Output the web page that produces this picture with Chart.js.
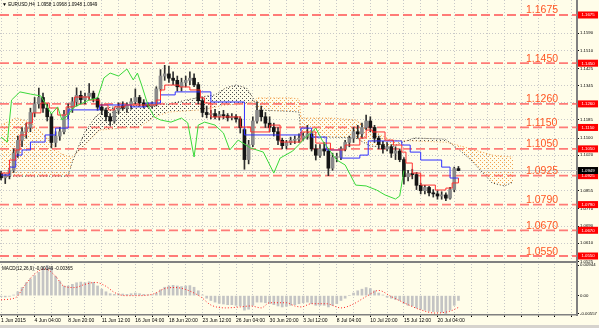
<!DOCTYPE html>
<html>
<head>
<meta charset="utf-8">
<title>EURUSD H4</title>
<script src="https://cdn.jsdelivr.net/npm/chart.js@4.4.1/dist/chart.umd.min.js"></script>
<style>
  html, body { margin: 0; padding: 0; background: #ffffff; }
  #wrap { position: relative; width: 599px; height: 328px; background: #fffde9; overflow: hidden;
          font-family: "Liberation Sans", Arial, sans-serif; }
  canvas { position: absolute; left: 0; }
  #macd { top: 258px; }
  #main { top: 0; }
  .hdr { position: absolute; font-size: 4.6px; line-height: 5px; color: #000; white-space: pre; z-index: 2; }
  #tabs { position: absolute; left: 0; top: 325px; width: 599px; height: 3px; background: #d6d3ce; }
</style>
</head>
<body>
<div id="wrap">
  <canvas id="macd" width="599" height="68"></canvas>
  <canvas id="main" width="599" height="264"></canvas>
  <div class="hdr" style="left:2px;top:2px"><span style="font-size:5px">&#9660;</span> EURUSD,H4  1.0958 1.0968 1.0948 1.0949</div>
  <div class="hdr" style="left:2px;top:266px">MACD(12,26,9) -0.00149 -0.00365</div>
  <div id="tabs"></div>
</div>
<script>
const FONT = '"Liberation Sans", Arial, sans-serif';

// x values are H4 bar numbers, bar 0 = 1 Jun 2015 12:00
const xLabels = ['1 Jun 2015', '4 Jun 04:00', '8 Jun 20:00', '11 Jun 12:00', '16 Jun 04:00', '18 Jun 20:00',
  '23 Jun 12:00', '26 Jun 04:00', '30 Jun 20:00', '3 Jul 12:00', '8 Jul 04:00', '10 Jul 20:00',
  '15 Jul 12:00', '20 Jul 04:00'];
const yTicks = [1.0525, 1.0610, 1.0690, 1.0770, 1.0855, 1.0940, 1.1020, 1.1100, 1.1185, 1.1265,
  1.1345, 1.1425, 1.1510, 1.1590];
const macdTicks = [-0.00557, 0, 0.00944];
const levels = [1.1675, 1.1450, 1.1260, 1.1150, 1.1050, 1.0925, 1.0790, 1.0670, 1.0550];
const bid = 1.0949;

// candles, one every 2 bars
const opens = [1.0935, 1.0915, 1.0925, 1.0950, 1.1030, 1.1090, 1.1130, 1.1150, 1.1220, 1.1260,
  1.1290, 1.1240, 1.1200, 1.1080, 1.1110, 1.1130, 1.1210, 1.1240, 1.1270, 1.1300,
  1.1280, 1.1295, 1.1310, 1.1285, 1.1245, 1.1230, 1.1200, 1.1180, 1.1230, 1.1250,
  1.1240, 1.1255, 1.1270, 1.1290, 1.1265, 1.1255, 1.1250, 1.1260, 1.1330, 1.1390,
  1.1400, 1.1380, 1.1370, 1.1340, 1.1360, 1.1370, 1.1380, 1.1350, 1.1275, 1.1220,
  1.1210, 1.1215, 1.1200, 1.1210, 1.1205, 1.1195, 1.1200, 1.1190, 1.1140, 1.1000,
  1.1070, 1.1180, 1.1230, 1.1200, 1.1170, 1.1150, 1.1130, 1.1090, 1.1065, 1.1080,
  1.1090, 1.1095, 1.1100, 1.1110, 1.1120, 1.1050, 1.1020, 1.1050, 1.1040, 1.0960,
  1.1010, 1.1010, 1.1050, 1.1080, 1.1100, 1.1130, 1.1120, 1.1150, 1.1180, 1.1150,
  1.1100, 1.1070, 1.1050, 1.1060, 1.1030, 1.1040, 1.1000, 1.0920, 1.0935, 1.0930,
  1.0880, 1.0855, 1.0870, 1.0845, 1.0840, 1.0830, 1.0835, 1.0820, 1.0860, 1.0958];
const highs = [1.0945, 1.0930, 1.0960, 1.1050, 1.1110, 1.1150, 1.1170, 1.1240, 1.1290, 1.1334,
  1.1310, 1.1260, 1.1215, 1.1130, 1.1150, 1.1230, 1.1260, 1.1290, 1.1335, 1.1320,
  1.1310, 1.1355, 1.1320, 1.1290, 1.1260, 1.1240, 1.1215, 1.1240, 1.1265, 1.1270,
  1.1265, 1.1285, 1.1330, 1.1300, 1.1280, 1.1265, 1.1270, 1.1340, 1.1420, 1.1440,
  1.1436, 1.1410, 1.1390, 1.1380, 1.1390, 1.1410, 1.1400, 1.1360, 1.1290, 1.1250,
  1.1230, 1.1235, 1.1225, 1.1230, 1.1215, 1.1215, 1.1210, 1.1200, 1.1150, 1.1090,
  1.1200, 1.1270, 1.1250, 1.1220, 1.1200, 1.1170, 1.1150, 1.1100, 1.1090, 1.1105,
  1.1110, 1.1120, 1.1125, 1.1160, 1.1130, 1.1070, 1.1070, 1.1080, 1.1050, 1.1030,
  1.1030, 1.1060, 1.1090, 1.1110, 1.1150, 1.1160, 1.1170, 1.1208, 1.1200, 1.1160,
  1.1110, 1.1085, 1.1080, 1.1070, 1.1060, 1.1050, 1.1010, 1.0950, 1.0955, 1.0940,
  1.0890, 1.0880, 1.0875, 1.0860, 1.0855, 1.0850, 1.0845, 1.0870, 1.0965, 1.0968];
const lows = [1.0905, 1.0888, 1.0910, 1.0940, 1.1010, 1.1060, 1.1100, 1.1130, 1.1200, 1.1240,
  1.1220, 1.1180, 1.1054, 1.1060, 1.1090, 1.1120, 1.1190, 1.1220, 1.1250, 1.1260,
  1.1260, 1.1280, 1.1270, 1.1230, 1.1210, 1.1180, 1.1160, 1.1170, 1.1215, 1.1230,
  1.1220, 1.1235, 1.1260, 1.1250, 1.1240, 1.1245, 1.1240, 1.1250, 1.1320, 1.1370,
  1.1360, 1.1350, 1.1320, 1.1320, 1.1340, 1.1350, 1.1340, 1.1260, 1.1200, 1.1195,
  1.1190, 1.1190, 1.1185, 1.1190, 1.1180, 1.1185, 1.1175, 1.1124, 1.0955, 1.0980,
  1.1060, 1.1170, 1.1180, 1.1150, 1.1130, 1.1110, 1.1070, 1.1050, 1.1050, 1.1070,
  1.1075, 1.1080, 1.1090, 1.1095, 1.1040, 1.0998, 1.1010, 1.1020, 1.0925, 1.0950,
  1.0990, 1.1000, 1.1040, 1.1060, 1.1080, 1.1100, 1.1100, 1.1140, 1.1130, 1.1080,
  1.1050, 1.1030, 1.1040, 1.1010, 1.1000, 1.0990, 1.0885, 1.0900, 1.0910, 1.0860,
  1.0840, 1.0840, 1.0830, 1.0825, 1.0815, 1.0815, 1.0808, 1.0815, 1.0850, 1.0948];
const closes = [1.0915, 1.0925, 1.0950, 1.1030, 1.1090, 1.1130, 1.1150, 1.1220, 1.1260, 1.1290,
  1.1240, 1.1200, 1.1080, 1.1110, 1.1130, 1.1210, 1.1240, 1.1270, 1.1300, 1.1280,
  1.1295, 1.1310, 1.1285, 1.1245, 1.1230, 1.1200, 1.1180, 1.1230, 1.1250, 1.1240,
  1.1255, 1.1270, 1.1290, 1.1265, 1.1255, 1.1250, 1.1260, 1.1330, 1.1390, 1.1400,
  1.1380, 1.1370, 1.1340, 1.1360, 1.1370, 1.1380, 1.1350, 1.1275, 1.1220, 1.1210,
  1.1215, 1.1200, 1.1210, 1.1205, 1.1195, 1.1200, 1.1190, 1.1150, 1.1000, 1.1070,
  1.1180, 1.1230, 1.1200, 1.1170, 1.1150, 1.1130, 1.1090, 1.1065, 1.1080, 1.1090,
  1.1095, 1.1100, 1.1110, 1.1120, 1.1050, 1.1020, 1.1050, 1.1040, 1.0960, 1.1010,
  1.1010, 1.1050, 1.1080, 1.1100, 1.1130, 1.1120, 1.1150, 1.1180, 1.1150, 1.1100,
  1.1070, 1.1050, 1.1060, 1.1030, 1.1040, 1.1000, 1.0920, 1.0935, 1.0930, 1.0880,
  1.0855, 1.0870, 1.0845, 1.0840, 1.0830, 1.0835, 1.0820, 1.0860, 1.0958, 1.0949];

// ichimoku lines, read as (bar, price) break points
const tenkanBars = [0, 4, 7, 9, 12, 15, 19, 23, 27, 31, 35, 42, 47, 51, 54, 59, 74, 76, 78, 85,
  90, 95, 97, 100, 114, 119, 128, 133, 143, 150, 157, 164, 171, 174, 177, 183, 187, 191, 193, 196,
  200, 207, 212, 215, 218];
const tenkanVals = [1.0937, 1.0998, 1.1045, 1.1115, 1.1171, 1.1218, 1.1264, 1.1241, 1.1208, 1.1246,
  1.1292, 1.1278, 1.1255, 1.1232, 1.1246, 1.1255, 1.1278, 1.1325, 1.1348, 1.1339,
  1.1325, 1.1288, 1.1264, 1.1199, 1.1152, 1.1129, 1.1161, 1.1082, 1.1129, 1.1077,
  1.1045, 1.1068, 1.1101, 1.1138, 1.1129, 1.1091, 1.1068, 1.1035, 1.0984, 1.0937,
  1.0881, 1.0858, 1.0867, 1.0891, 1.0914];
const kijunBars = [0, 4, 7, 10, 14, 21, 26, 32, 47, 62, 69, 76, 83, 100, 116, 143, 148, 155, 162, 171,
  175, 191, 195, 200, 210, 214, 218];
const kijunVals = [1.0928, 1.0965, 1.1021, 1.1045, 1.1082, 1.1115, 1.1147, 1.1232, 1.1255, 1.1246,
  1.1264, 1.1302, 1.1316, 1.1269, 1.1115, 1.1147, 1.1105, 1.1045, 1.1007, 1.1021,
  1.1087, 1.1068, 1.1035, 1.0998, 1.0965, 1.0914, 1.0905];
const chikouBars = [0, 3, 5, 9, 14, 19, 22, 24, 27, 29, 31, 35, 42, 46, 49, 52, 56, 60, 63, 65,
  67, 70, 73, 76, 81, 86, 89, 92, 94, 97, 102, 106, 109, 113, 119, 125, 130, 133, 139, 145,
  150, 153, 160, 164, 169, 174, 179, 183, 188, 190, 192];
const chikouVals = [1.1105, 1.1082, 1.1278, 1.1316, 1.1306, 1.1297, 1.1246, 1.1213, 1.1246, 1.1185,
  1.1199, 1.1246, 1.1278, 1.1288, 1.1381, 1.1404, 1.1390, 1.1423, 1.1372, 1.1404,
  1.1348, 1.1255, 1.1199, 1.1185, 1.1175, 1.1194, 1.1171, 1.1012, 1.1161, 1.1175,
  1.1161, 1.1124, 1.1045, 1.1091, 1.1054, 1.1035, 1.0937, 1.1007, 1.1040, 1.1101,
  1.1147, 1.1091, 1.0998, 1.0975, 1.0881, 1.0877, 1.0858, 1.0835, 1.0816, 1.0830, 1.0949];
const cloudBars = [0, 7, 14, 21, 28, 32, 34, 36, 40, 45, 47, 50, 57, 66, 73, 80, 95, 102, 107, 112,
  117, 120, 122, 138, 142, 143, 157, 169, 176, 186, 193, 197, 210, 212, 216, 219, 224, 234, 240, 244];
const spanA = [1.1161, 1.1194, 1.1175, 1.1110, 1.1030, 1.1015, 1.1012, 1.1030, 1.1070, 1.1120,
  1.1138, 1.1140, 1.1147, 1.1152, 1.1199, 1.1222, 1.1232, 1.1245, 1.1255, 1.1258,
  1.1262, 1.1270, 1.1288, 1.1288, 1.1283, 1.1194, 1.1194, 1.1185, 1.1138, 1.1091,
  1.1088, 1.1087, 1.1082, 1.1082, 1.1072, 1.1063, 1.1050, 1.1021, 1.1015, 1.1012];
const spanB = [1.0923, 1.0923, 1.0923, 1.0923, 1.0923, 1.0923, 1.0990, 1.1040, 1.1130, 1.1200,
  1.1215, 1.1241, 1.1250, 1.1252, 1.1255, 1.1260, 1.1292, 1.1302, 1.1334, 1.1348,
  1.1334, 1.1290, 1.1232, 1.1225, 1.1222, 1.1105, 1.1105, 1.1101, 1.1063, 1.1059,
  1.1087, 1.1101, 1.1096, 1.1094, 1.1063, 1.1040, 1.0998, 1.0891, 1.0877, 1.0895];

// MACD main (histogram, same bars as the candles) and signal
const macdHist = [-0.0003, -0.0004, -0.0002, 0.0002, 0.0012, 0.0025, 0.0040, 0.0052, 0.0062, 0.0072,
  0.0088, 0.0094, 0.0086, 0.0060, 0.0045, 0.0030, 0.0030, 0.0035, 0.0040, 0.0042,
  0.0040, 0.0043, 0.0041, 0.0030, 0.0020, 0.0012, 0.0006, 0.0004, 0.0006, 0.0005,
  0.0004, 0.0006, 0.0008, 0.0006, 0.0004, 0.0003, 0.0002, 0.0008, 0.0018, 0.0026,
  0.0030, 0.0032, 0.0030, 0.0028, 0.0030, 0.0031, 0.0026, 0.0015, 0.0002, -0.0008,
  -0.0015, -0.0020, -0.0024, -0.0026, -0.0028, -0.0028, -0.0030, -0.0032, -0.0045, -0.0042,
  -0.0030, -0.0020, -0.0020, -0.0022, -0.0025, -0.0028, -0.0032, -0.0035, -0.0033, -0.0030,
  -0.0028, -0.0025, -0.0022, -0.0020, -0.0025, -0.0030, -0.0030, -0.0030, -0.0035, -0.0030,
  -0.0025, -0.0015, -0.0008, 0.0000, 0.0008, 0.0015, 0.0020, 0.0025, 0.0022, 0.0015,
  0.0008, 0.0002, -0.0005, -0.0008, -0.0012, -0.0015, -0.0025, -0.0030, -0.0032, -0.0038,
  -0.0042, -0.0045, -0.0048, -0.0050, -0.0050, -0.0052, -0.00557, -0.0045, -0.0030, -0.00149];
const signalBars = [0, 7, 11, 16, 21, 26, 30, 35, 40, 45, 50, 54, 59, 66, 73, 78, 83, 88, 95, 100,
  107, 114, 119, 124, 128, 136, 140, 143, 148, 155, 162, 167, 174, 180, 186, 193, 200, 207, 214, 218];
const signalVals = [-0.0013, -0.0006, 0.0029, 0.0067, 0.0083, 0.0060, 0.0029, 0.0025, 0.0035, 0.0041,
  0.0029, 0.0010, 0.0000, 0.0000, 0.0006, 0.0022, 0.0025, 0.0019, -0.0003, -0.0029,
  -0.0038, -0.0035, -0.0032, -0.0038, -0.0022, -0.0022, -0.0032, -0.0035, -0.0025, -0.0025,
  -0.0038, -0.0029, -0.0003, 0.0016, -0.0003, -0.0025, -0.0044, -0.0054, -0.0048, -0.00365];

const candleStep = 2;
const X_MIN = -0.5, X_MAX = 274.5;
const gridBars = [];
for (let b = 0; b <= 272; b += 8) gridBars.push(b);

const pts = (xs, ys) => xs.map((x, i) => ({x: x, y: ys[i]}));

function dots(ctx, color) {
  const c = document.createElement('canvas');
  c.width = 4; c.height = 4;
  const g = c.getContext('2d');
  g.fillStyle = color;
  g.fillRect(0, 0, 1, 1);
  g.fillRect(2, 2, 1, 1);
  return ctx.createPattern(c, 'repeat');
}

const mainCtx = document.getElementById('main').getContext('2d');

const lineDs = (data, color, extra) => Object.assign({
  type: 'line', data: data, borderColor: color, borderWidth: 1,
  pointRadius: 0, fill: false, tension: 0, order: 0
}, extra || {});

const levelSets = levels.map(v => lineDs([{x: X_MIN, y: v}, {x: X_MAX, y: v}],
  'rgba(255,90,90,0.8)', {borderWidth: 1.8, borderDash: [9, 4], order: 3}));

function box(ctx, x, y, bg, text) {
  ctx.fillStyle = bg;
  ctx.fillRect(x, y - 3.5, 20, 7);
  ctx.fillStyle = '#ffffff';
  ctx.font = '4.3px ' + FONT;
  ctx.textAlign = 'center';
  ctx.textBaseline = 'middle';
  ctx.fillText(text, x + 10, y + 0.3);
}

const levelMarks = {
  id: 'levelMarks',
  afterDraw(chart) {
    const {ctx, chartArea, scales} = chart;
    ctx.save();
    levels.forEach(v => {
      const py = scales.y.getPixelForValue(v);
      ctx.fillStyle = '#ff5522';
      ctx.font = '10.5px ' + FONT;
      ctx.textAlign = 'left';
      ctx.textBaseline = 'alphabetic';
      ctx.fillText(v.toFixed(4), chartArea.right - 51, py - 1.5);
      box(ctx, chartArea.right + 1, py, '#ff0000', v.toFixed(4));
    });
    box(ctx, chartArea.right + 1, scales.y.getPixelForValue(bid), '#000000', bid.toFixed(4));
    ctx.restore();
  }
};

const xGrid = s => { s.ticks = gridBars.map(v => ({value: v})); };

new Chart(mainCtx, {
  type: 'line',
  data: {
    datasets: [
      lineDs(pts(chikouBars, chikouVals), '#3ad83a'),
      lineDs(pts(tenkanBars, tenkanVals), '#ff3030', {stepped: true}),
      lineDs(pts(kijunBars, kijunVals), '#3030ff', {stepped: true}),
      {
        type: 'bar', data: opens.map((o, i) => ({x: i * candleStep, y: [o, closes[i]]})),
        backgroundColor: opens.map((o, i) => closes[i] >= o ? '#8a8a8a' : '#151515'),
        barThickness: 3, grouped: false, minBarLength: 1, borderWidth: 0, order: 1
      },
      {
        type: 'bar', data: highs.map((h, i) => ({x: i * candleStep, y: [lows[i], h]})),
        backgroundColor: '#303030', barThickness: 1, grouped: false, borderWidth: 0, order: 2
      },
      lineDs([{x: X_MIN, y: bid}, {x: X_MAX, y: bid}], '#c8c8c8', {order: 3}),
      ...levelSets,
      lineDs(pts(cloudBars, spanA), '#f0a050', {
        borderDash: [1, 2], order: 4,
        fill: {target: '+1', above: dots(mainCtx, '#f0a050'), below: dots(mainCtx, '#505050')}
      }),
      lineDs(pts(cloudBars, spanB), '#303030', {borderDash: [1, 2], order: 4})
    ]
  },
  options: {
    responsive: false,
    animation: false,
    events: [],
    layout: {padding: 0, autoPadding: false},
    plugins: {legend: {display: false}, tooltip: {enabled: false}},
    scales: {
      x: {
        type: 'linear', min: X_MIN, max: X_MAX, offset: false,
        afterBuildTicks: xGrid,
        ticks: {display: false},
        grid: {color: '#c8c8c8', drawTicks: false, offset: false},
        border: {display: true, color: '#808080', width: 2, dash: [1, 2]},
        afterFit: s => { s.height = 2; s.paddingLeft = 0; s.paddingRight = 0; }
      },
      y: {
        type: 'linear', position: 'right', min: 1.0522, max: 1.1745,
        afterBuildTicks: s => { s.ticks = yTicks.map(v => ({value: v})); },
        ticks: {font: {size: 4.3, family: FONT}, color: '#000', padding: 1, callback: v => v.toFixed(4)},
        grid: {color: '#c8c8c8', tickLength: 2, tickColor: '#000'},
        border: {display: true, color: '#808080', width: 2, dash: [1, 2]},
        afterFit: s => { s.width = 22; s.paddingTop = 0; s.paddingBottom = 0; }
      }
    }
  },
  plugins: [levelMarks]
});

new Chart(document.getElementById('macd'), {
  type: 'line',
  data: {
    datasets: [
      {
        type: 'line', data: pts(signalBars, signalVals), borderColor: '#ff2020', borderWidth: 1,
        borderDash: [1, 2], pointRadius: 0, cubicInterpolationMode: 'monotone', order: 0
      },
      {
        type: 'bar', data: macdHist.map((v, i) => ({x: i * candleStep, y: v})),
        backgroundColor: '#c4c4c4', barThickness: 2, grouped: false, borderWidth: 0, order: 1
      }
    ]
  },
  options: {
    responsive: false,
    animation: false,
    events: [],
    layout: {padding: {top: 6}, autoPadding: false},
    plugins: {legend: {display: false}, tooltip: {enabled: false}},
    scales: {
      x: {
        type: 'linear', min: X_MIN, max: X_MAX, offset: false,
        afterBuildTicks: xGrid,
        ticks: {
          font: {size: 5, family: FONT}, color: '#000', align: 'start', maxRotation: 0,
          autoSkip: false, padding: 1,
          callback: v => (v % 16 === 0 && xLabels[v / 16]) ? xLabels[v / 16] : ''
        },
        grid: {color: '#c8c8c8', tickLength: 2, tickColor: '#000', offset: false},
        border: {display: true, color: '#808080', width: 1.5, dash: [1, 2]},
        afterFit: s => { s.height = 11; s.paddingLeft = 0; s.paddingRight = 0; }
      },
      y: {
        type: 'linear', position: 'right', min: -0.0060, max: 0.0098,
        afterBuildTicks: s => { s.ticks = macdTicks.map(v => ({value: v})); },
        ticks: {
          font: {size: 4.3, family: FONT}, color: '#000', padding: 1,
          callback: v => v === 0 ? '0.00' : v.toFixed(5)
        },
        grid: {drawOnChartArea: false, tickLength: 2, tickColor: '#000'},
        border: {display: true, color: '#808080', width: 2},
        afterFit: s => { s.width = 22; s.paddingTop = 0; s.paddingBottom = 0; }
      }
    }
  }
});
</script>
</body>
</html>
